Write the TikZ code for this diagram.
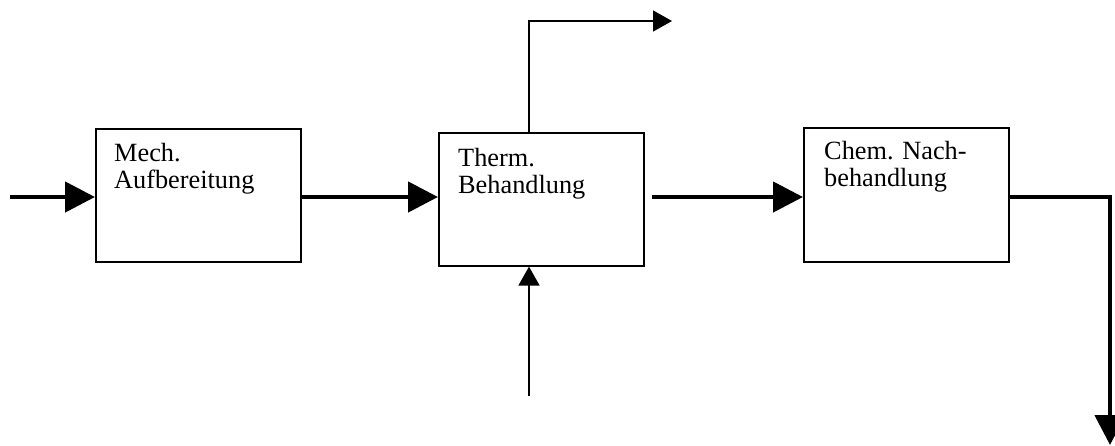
\documentclass[tikz,border=0pt]{standalone}
\usepackage{fontspec}
\setmainfont{Liberation Serif}
\frenchspacing
\usetikzlibrary{arrows.meta}
\begin{document}
\begin{tikzpicture}[x=1pt,y=-1pt,
  box/.style={draw,line width=1.6pt,inner sep=0pt,anchor=north west},
  lbl/.style={inner sep=0pt,anchor=base west,text width=190pt,align=left,
    font=\fontsize{26.3}{27.5}\selectfont},
  thick arrow/.style={line width=4.6pt,-{Triangle[length=30pt,width=30pt]}},
  thin arrow/.style={line width=1.6pt,-{Triangle[length=19pt,width=21pt]}}]
\useasboundingbox (0,0) rectangle (1115,445);
% boxes
\node[box,minimum width=205pt,minimum height=133pt] (b1) at (95,128) {};
\node[box,minimum width=205pt,minimum height=133pt] (b2) at (438,132) {};
\node[box,minimum width=205pt,minimum height=134pt] (b3) at (803,127) {};
% labels
\node[lbl] (t1) at (114,161) {Mech.\\Aufbereitung};
\node[lbl] (t2) at (458,166) {Therm.\\Behandlung};
\node[lbl] (t3) at (824,159) {Chem. Nach-\\behandlung};
% free ends
\coordinate (in1) at (10,197);
\coordinate (s3) at (652,197);
\coordinate (c4) at (1110,197);
\coordinate (out4) at (1110,445);
\coordinate (topc) at (529,21);
\coordinate (topout) at (672,21);
\coordinate (botin) at (529,396);
% connectors
\draw[thick arrow] (in1) -- (b1.west |- in1);
\draw[thick arrow] (b1.east |- in1) -- (b2.west |- in1);
\draw[thick arrow] (s3) -- (b3.west |- s3);
\draw[thick arrow] (b3.east |- c4) -- (c4) -- (out4);
\draw[thin arrow] (b2.north -| topc) -- (topc) -- (topout);
\draw[thin arrow] (botin) -- (b2.south -| botin);
\end{tikzpicture}
\end{document}
